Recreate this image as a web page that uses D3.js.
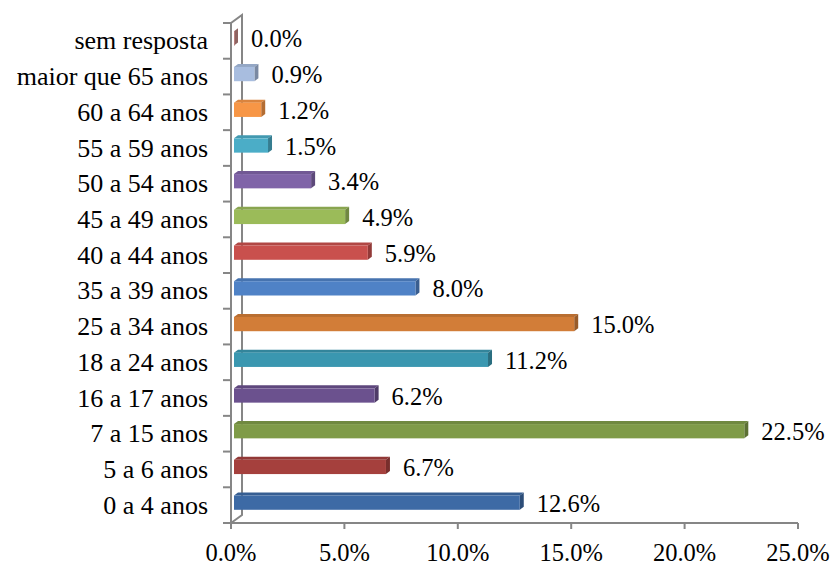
<!DOCTYPE html>
<html>
<head>
<meta charset="utf-8">
<script src="https://cdn.jsdelivr.net/npm/d3@7"></script>
<style>
  body { margin: 0; background: #fff; }
  svg text { font-family: "Liberation Serif", serif; fill: #000; }
</style>
</head>
<body>
<div id="chart"></div>
<script>
// categories listed bottom to top
const categories = ["0 a 4 anos", "5 a 6 anos", "7 a 15 anos", "16 a 17 anos", "18 a 24 anos",
  "25 a 34 anos", "35 a 39 anos", "40 a 44 anos", "45 a 49 anos", "50 a 54 anos",
  "55 a 59 anos", "60 a 64 anos", "maior que 65 anos", "sem resposta"];
const values = [12.6, 6.7, 22.5, 6.2, 11.2, 15.0, 8.0, 5.9, 4.9, 3.4, 1.5, 1.2, 0.9, 0.0];
const colors = ["#3d6aa5", "#a5403d", "#7f9b48", "#6b518e", "#3a97b0", "#d27d38", "#4f82c6",
  "#c9504d", "#9bbb59", "#8064a8", "#4badc7", "#f79646", "#a8bddf", "#c48886"];
const xTicks = [0, 5, 10, 15, 20, 25];

const width = 831, height = 565;
const plotLeft = 231, plotRight = 798, plotTop = 23, plotBottom = 523;
const depth = {x: 11, y: -8};   // back wall offset
const barFront = {x: 3, y: -2.5}, barBack = {x: 7, y: -5.5};
const catFont = "26px", numFont = "24.5px";

const svg = d3.select("#chart")
  .append("svg")
  .attr("width", width)
  .attr("height", height);

const x = d3.scaleLinear().domain([0, 25]).range([plotLeft, plotRight]);
const y = d3.scaleBand().domain(categories.slice().reverse()).range([plotTop, plotBottom]);

const axisColor = "#868686";

// walls / axis lines
svg.append("path")
  .attr("d", `M${plotLeft},${plotBottom} L${plotLeft},${plotTop} L${plotLeft + depth.x},${plotTop + depth.y} L${plotLeft + depth.x},${plotBottom + depth.y} L${plotLeft},${plotBottom}`)
  .attr("fill", "none")
  .attr("stroke", axisColor)
  .attr("stroke-width", 2);

svg.append("line")
  .attr("x1", plotLeft).attr("x2", plotRight)
  .attr("y1", plotBottom).attr("y2", plotBottom)
  .attr("stroke", axisColor).attr("stroke-width", 2);

// x ticks + labels
svg.append("g")
  .selectAll("line")
  .data(xTicks)
  .join("line")
    .attr("x1", d => x(d)).attr("x2", d => x(d))
    .attr("y1", plotBottom).attr("y2", plotBottom + 6)
    .attr("stroke", axisColor).attr("stroke-width", 2);

svg.append("g")
  .selectAll("text")
  .data(xTicks)
  .join("text")
    .attr("x", d => x(d))
    .attr("y", 552)
    .attr("dy", "0.35em")
    .attr("text-anchor", "middle")
    .style("font-size", numFont)
    .text(d => d.toFixed(1) + "%");

// y ticks at band boundaries
const bounds = d3.range(categories.length + 1).map(i => plotTop + i * y.step());
svg.append("g")
  .selectAll("line")
  .data(bounds)
  .join("line")
    .attr("x1", plotLeft - 8).attr("x2", plotLeft)
    .attr("y1", d => d).attr("y2", d => d)
    .attr("stroke", axisColor).attr("stroke-width", 2);

// category labels
svg.append("g")
  .selectAll("text")
  .data(categories)
  .join("text")
    .attr("x", 208)
    .attr("y", d => y(d) + y.bandwidth() / 2)
    .attr("dy", "0.33em")
    .attr("text-anchor", "end")
    .style("font-size", catFont)
    .text(d => d);

// 3D bars
const rows = categories.map((c, i) => ({cat: c, v: values[i], color: colors[i]}));
const barH = y.bandwidth() * 0.4;
const bars = svg.append("g").selectAll("g").data(rows).join("g");

function geom(d) {
  const yc = y(d.cat) + y.bandwidth() / 2;
  const x0 = x(0) + barFront.x, x1 = x(d.v) + barFront.x;
  const y0 = yc - barH / 2 + barFront.y, y1 = yc + barH / 2 + barFront.y;
  const dx = barBack.x - barFront.x, dy = barBack.y - barFront.y;
  return {x0, x1, y0, y1, dx, dy};
}

// top face
bars.append("path")
  .attr("d", d => {
    const g = geom(d);
    return `M${g.x0},${g.y0} L${g.x0 + g.dx},${g.y0 + g.dy} L${g.x1 + g.dx},${g.y0 + g.dy} L${g.x1},${g.y0} Z`;
  })
  .attr("fill", d => d3.color(d.color).darker(0.35));

// side face
bars.append("path")
  .attr("d", d => {
    const g = geom(d);
    return `M${g.x1},${g.y0} L${g.x1 + g.dx},${g.y0 + g.dy} L${g.x1 + g.dx},${g.y1 + g.dy} L${g.x1},${g.y1} Z`;
  })
  .attr("fill", d => d3.color(d.color).darker(0.9));

// front face
bars.append("rect")
  .attr("x", d => geom(d).x0)
  .attr("y", d => geom(d).y0)
  .attr("width", d => Math.max(0.8, geom(d).x1 - geom(d).x0))
  .attr("height", barH)
  .attr("fill", d => d.color);

// value labels
svg.append("g")
  .selectAll("text")
  .data(rows)
  .join("text")
    .attr("x", d => x(d.v) + 20)
    .attr("y", d => y(d.cat) + y.bandwidth() / 2 - 2)
    .attr("dy", "0.35em")
    .style("font-size", numFont)
    .text(d => d.v.toFixed(1) + "%");
</script>
</body>
</html>
